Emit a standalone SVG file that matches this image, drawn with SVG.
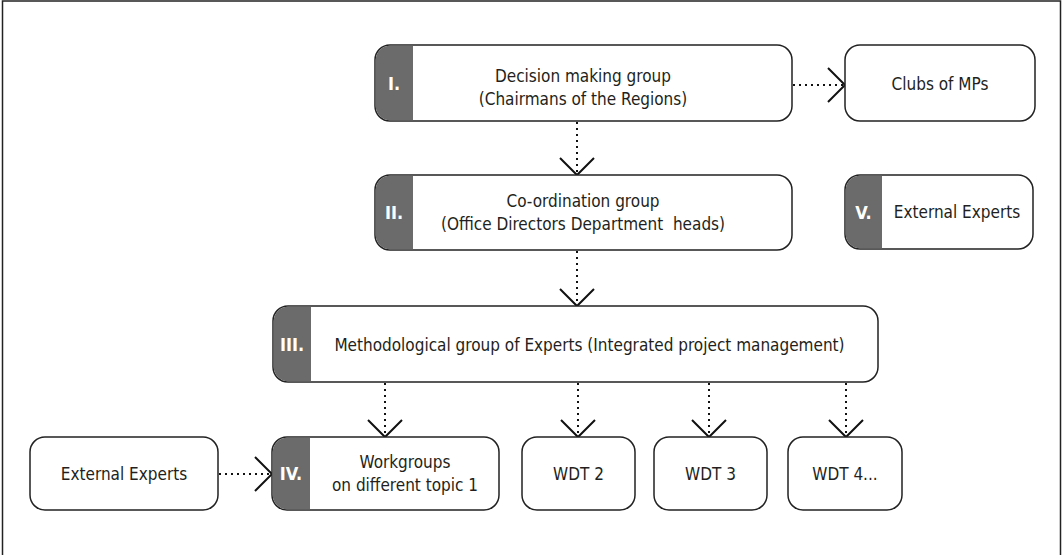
<svg xmlns="http://www.w3.org/2000/svg" width="1062" height="555" viewBox="0 0 1062 555">
<style>
.box{fill:#fff;stroke:#222;stroke-width:1.5}
.panel{fill:#6b6b6b;stroke:none}
.t{font-family:"DejaVu Sans Condensed","DejaVu Sans","Liberation Sans",sans-serif;font-stretch:condensed;font-size:17px;fill:#231f20;text-anchor:middle}
.n{font-family:"DejaVu Sans Condensed","DejaVu Sans","Liberation Sans",sans-serif;font-stretch:condensed;font-weight:bold;font-size:18px;fill:#fff;text-anchor:middle}
.c{fill:none;stroke:#111;stroke-width:2;stroke-dasharray:2 4}
</style>
<defs>
<marker id="chev" markerUnits="userSpaceOnUse" markerWidth="20" markerHeight="38" refX="18" refY="18" orient="auto" overflow="visible">
<path d="M1,1 L18,18 L1,35" fill="none" stroke="#111" stroke-width="2"/>
</marker>
</defs>
<rect x="2.5" y="1" width="1058" height="570" fill="#fff" stroke="#222" stroke-width="1.5"/>
<g id="connectors">
<path class="c" d="M793,85 H845" marker-end="url(#chev)"/>
<path class="c" d="M577,122 V175" marker-end="url(#chev)"/>
<path class="c" d="M577,251 V306" marker-end="url(#chev)"/>
<path class="c" d="M385,383 V437" marker-end="url(#chev)"/>
<path class="c" d="M578,383 V437" marker-end="url(#chev)"/>
<path class="c" d="M709,383 V437" marker-end="url(#chev)"/>
<path class="c" d="M846,383 V437" marker-end="url(#chev)"/>
<path class="c" d="M219,474 H272" marker-end="url(#chev)"/>
</g>
<g id="node-1">
<rect class="box" x="375" y="45" width="417" height="76" rx="15"/>
<path class="panel" d="M390,45.75 H413 V120.25 H390 A14.25,14.25 0 0 1 375.75,106 V60 A14.25,14.25 0 0 1 390,45.75 Z"/>
<text class="n" x="394" y="90">I.</text>
<text class="t" x="583" y="82">Decision making group</text>
<text class="t" x="583" y="105">(Chairmans of the Regions)</text>
</g>
<g id="node-clubs">
<rect class="box" x="845" y="45" width="190" height="76" rx="15"/>
<text class="t" x="940" y="90">Clubs of MPs</text>
</g>
<g id="node-2">
<rect class="box" x="375" y="175" width="417" height="75" rx="15"/>
<path class="panel" d="M390,175.75 H413 V249.25 H390 A14.25,14.25 0 0 1 375.75,235 V190 A14.25,14.25 0 0 1 390,175.75 Z"/>
<text class="n" x="394" y="219">II.</text>
<text class="t" x="583" y="207">Co-ordination group</text>
<text class="t" x="583" y="230" style="white-space:pre">(Office Directors Department  heads)</text>
</g>
<g id="node-5">
<rect class="box" x="845" y="175" width="188" height="74" rx="15"/>
<path class="panel" d="M860,175.75 H882 V248.25 H860 A14.25,14.25 0 0 1 845.75,234 V190 A14.25,14.25 0 0 1 860,175.75 Z"/>
<text class="n" x="863.5" y="219">V.</text>
<text class="t" x="957" y="218">External Experts</text>
</g>
<g id="node-3">
<rect class="box" x="273" y="306" width="605" height="76" rx="15"/>
<path class="panel" d="M288,306.75 H311 V381.25 H288 A14.25,14.25 0 0 1 273.75,367 V321 A14.25,14.25 0 0 1 288,306.75 Z"/>
<text class="n" x="292" y="351">III.</text>
<text class="t" x="589.5" y="351">Methodological group of Experts (Integrated project management)</text>
</g>
<g id="node-ext">
<rect class="box" x="30" y="437" width="188" height="73" rx="15"/>
<text class="t" x="124" y="480">External Experts</text>
</g>
<g id="node-4">
<rect class="box" x="272" y="437" width="227" height="73" rx="15"/>
<path class="panel" d="M287,437.75 H310 V509.25 H287 A14.25,14.25 0 0 1 272.75,495 V452 A14.25,14.25 0 0 1 287,437.75 Z"/>
<text class="n" x="291" y="480">IV.</text>
<text class="t" x="405" y="468">Workgroups</text>
<text class="t" x="405" y="491">on different topic 1</text>
</g>
<g id="node-wdt2">
<rect class="box" x="522" y="437" width="113" height="73" rx="15"/>
<text class="t" x="578.5" y="480">WDT 2</text>
</g>
<g id="node-wdt3">
<rect class="box" x="654" y="437" width="113" height="73" rx="15"/>
<text class="t" x="710.5" y="480">WDT 3</text>
</g>
<g id="node-wdt4">
<rect class="box" x="788" y="437" width="114" height="73" rx="15"/>
<text class="t" x="845" y="480">WDT 4...</text>
</g>
</svg>
